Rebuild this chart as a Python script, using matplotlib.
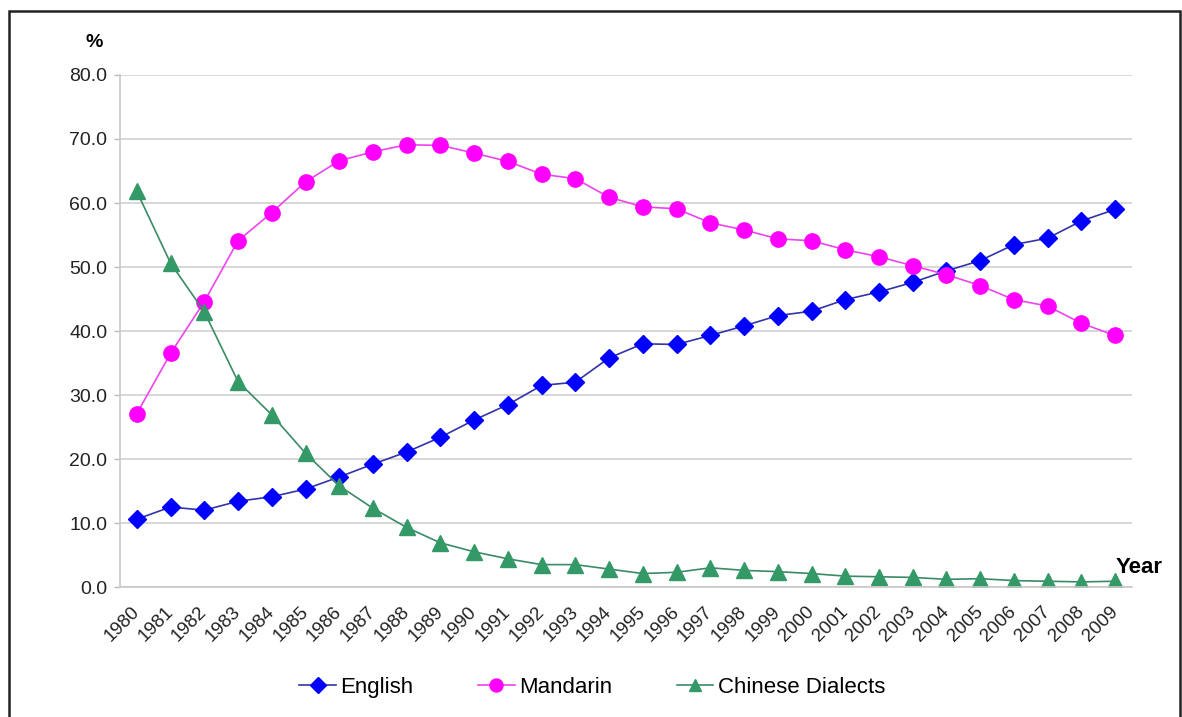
import matplotlib.pyplot as plt
from matplotlib.patches import Rectangle
import numpy as np

plt.rcParams['font.family'] = ['Liberation Sans', 'DejaVu Sans']

# Share of each language spoken most frequently at home, by year (%)
years = [str(y) for y in range(1980, 2010)]
english = [10.6, 12.5, 12.0, 13.4, 14.1, 15.3, 17.2, 19.2, 21.1, 23.4,
           26.1, 28.5, 31.5, 32.0, 35.8, 38.0, 37.9, 39.3, 40.8, 42.4,
           43.1, 44.9, 46.1, 47.6, 49.4, 51.0, 53.5, 54.5, 57.2, 59.0]
mandarin = [27.1, 36.5, 44.6, 54.1, 58.5, 63.3, 66.6, 68.0, 69.1, 69.0,
            67.8, 66.5, 64.5, 63.8, 60.9, 59.4, 59.1, 56.9, 55.8, 54.4,
            54.1, 52.7, 51.6, 50.2, 48.8, 47.1, 44.9, 43.9, 41.2, 39.3]
dialects = [61.8, 50.6, 43.0, 32.1, 26.9, 20.9, 15.8, 12.3, 9.3, 6.9,
            5.5, 4.4, 3.5, 3.5, 2.8, 2.1, 2.3, 3.0, 2.6, 2.4,
            2.1, 1.7, 1.6, 1.5, 1.2, 1.3, 1.0, 0.9, 0.8, 0.9]

fig = plt.figure(figsize=(11.82, 7.17), dpi=100)
ax = fig.add_axes([0.1015, 0.1813, 0.8562, 0.7141])

x = np.arange(len(years))
ax.plot(x, english, color='#3333aa', lw=1.2, marker='D', ms=9.5,
        mfc='#0000ff', mec='#0000ff', label='English')
ax.plot(x, mandarin, color='#ee44ee', lw=1.2, marker='o', ms=11,
        mfc='#ff00ff', mec='#ff00ff', label='Mandarin')
ax.plot(x, dialects, color='#3a8a68', lw=1.2, marker='^', ms=11,
        mfc='#339966', mec='#339966', label='Chinese Dialects')

ax.set_xlim(-0.5, len(years) - 0.5)
ax.set_ylim(0, 80)
ax.set_yticks(np.arange(0, 81, 10))
ax.set_yticklabels([f'{v:.1f}' for v in np.arange(0, 81, 10)], fontsize=14, color='#222222')
ax.set_xticks(x)
ax.set_xticklabels(years, rotation=45, ha='right', va='center', rotation_mode='anchor',
                   fontsize=13.5, color='#222222')
ax.tick_params(axis='x', length=0, pad=16)
ax.tick_params(axis='y', length=4, width=1, color='#bbbbbb', pad=5)

ax.grid(axis='y', color='#d4d4d4', lw=1.3)
ax.set_axisbelow(True)
for s in ['top', 'right']:
    ax.spines[s].set_visible(False)
for s in ['left', 'bottom']:
    ax.spines[s].set_color('#c8c8c8')
    ax.spines[s].set_linewidth(1.2)

fig.text(0.080, 0.941, '%', fontsize=14, fontweight='bold', ha='center', va='center')
fig.text(0.944, 0.208, 'Year', fontsize=16, fontweight='bold', ha='left', va='center')

fig.legend(loc='center', bbox_to_anchor=(0.501, 0.041), ncol=3, frameon=False,
           fontsize=16, handlelength=1.65, columnspacing=2.9, handletextpad=0.2,
           markerscale=0.85)

# outer frame
fig.patches.append(Rectangle((0.0076, -0.05), 0.9907, 1.034, transform=fig.transFigure,
                             fill=False, ec='#222222', lw=1.8))

plt.savefig('out.png', dpi=100)
plt.close()
